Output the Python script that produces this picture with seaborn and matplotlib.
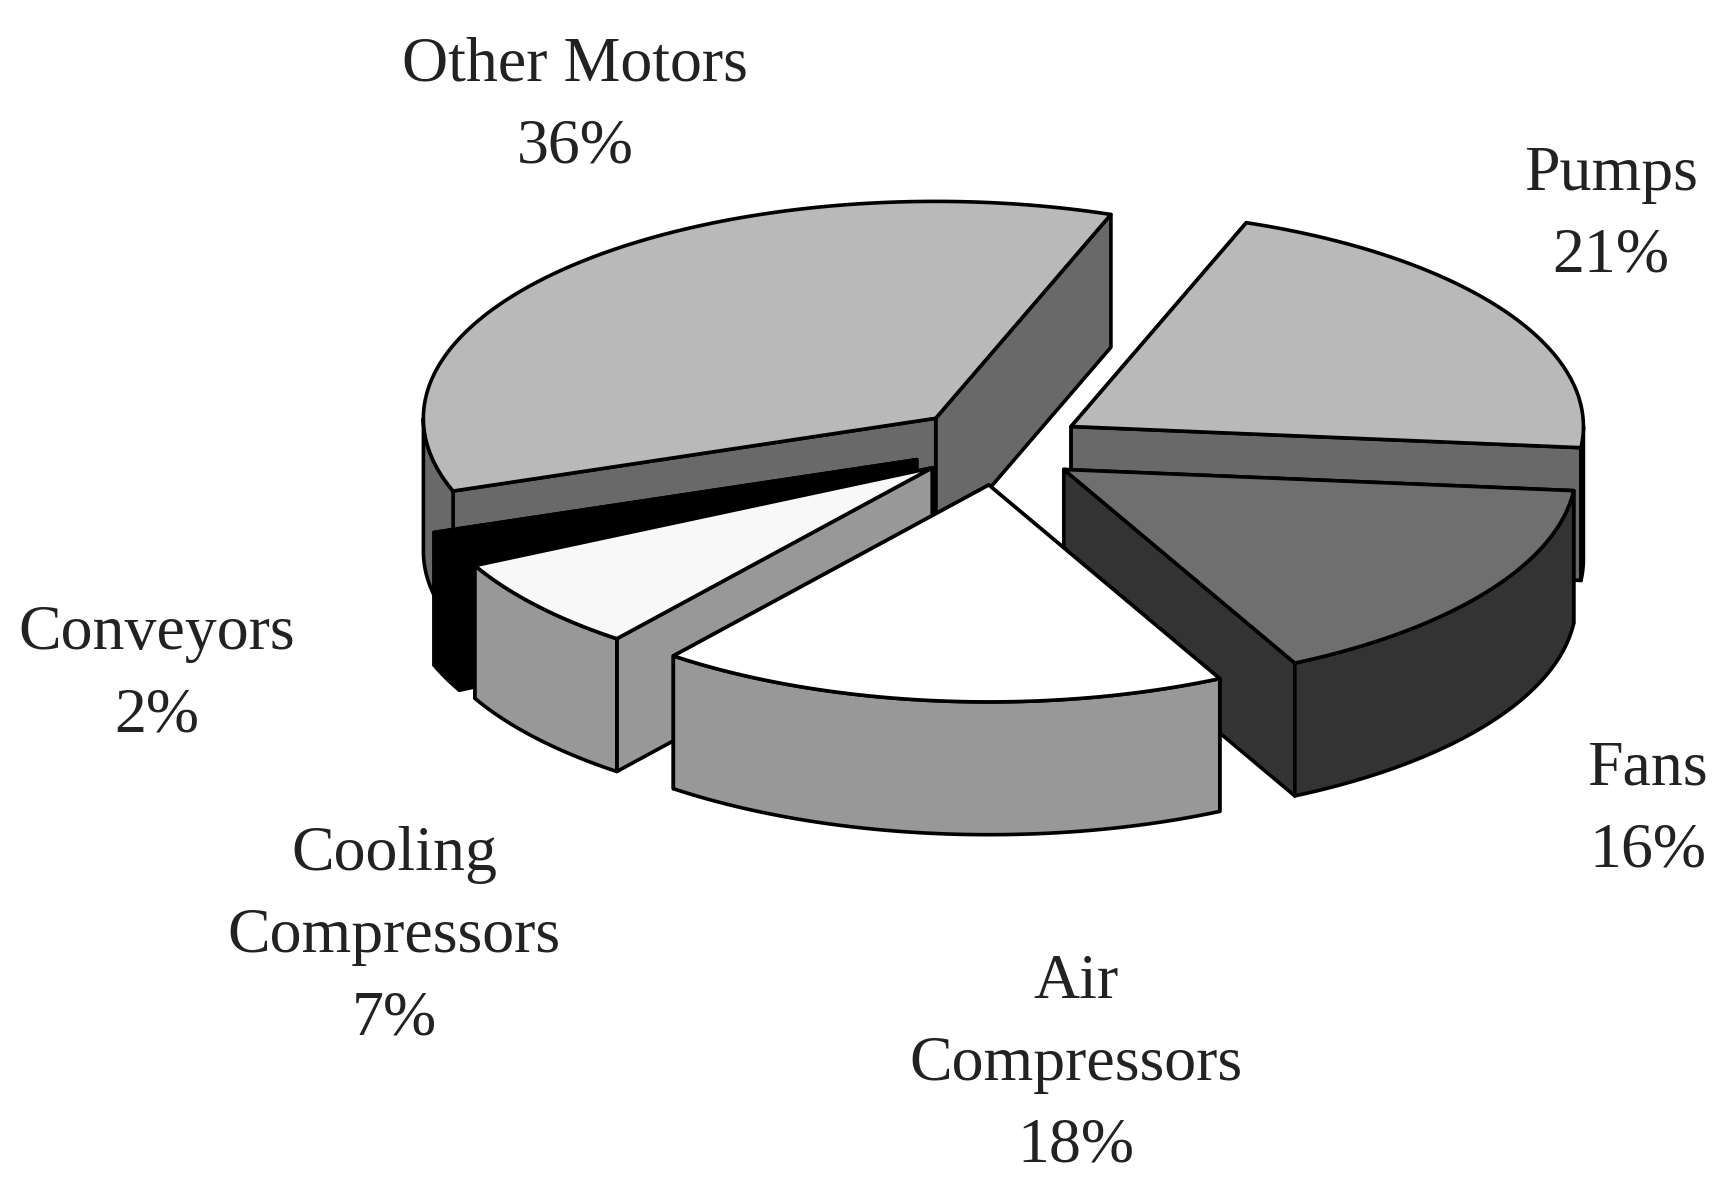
import numpy as np
import matplotlib
matplotlib.use("Agg")
import matplotlib.pyplot as plt
from matplotlib.patches import Polygon
import seaborn as sns

categories = ["Other Motors", "Pumps", "Fans", "Air\nCompressors", "Cooling\nCompressors", "Conveyors"]
shares = [36, 21, 16, 18, 7, 2]
explode = [80, 78, 72, 86, 77, 80]
lift = [0, 1, 5, 0, 0, 0]
top_colors = ["#b9b9b9", "#b9b9b9", "#6f6f6f", "#ffffff", "#f8f8f8", "#000000"]
side_colors = ["#696969", "#696969", "#333333", "#989898", "#989898", "#000000"]
arc_colors = ["#696969", "#000000", "#333333", "#989898", "#989898", "#000000"]
draw_order = [1, 0, 5, 2, 4, 3]
label_pos = [(520, 59), (1456, 158), (1489, 695), (972, 888), (356, 773), (142, 573)]
start_angle = 20 - 36 * 3.6

sns.set_theme(style="white")
plt.rcParams["font.family"] = ["Liberation Serif", "DejaVu Serif"]

CX, CY, RX, RY, DEPTH = 902, 402, 463, 196, 120


def project(theta_deg, ex, ey, z=0):
    t = np.radians(theta_deg)
    return np.column_stack([ex + RX * np.sin(t), ey - RY * np.cos(t) + z])


fig = plt.figure(figsize=(17.35, 11.93), dpi=100)
ax = fig.add_axes([0, 0, 1, 1])
ax.set_xlim(0, 1568)
ax.set_ylim(1078, 0)
ax.axis("off")

fracs = np.array(shares) / sum(shares) * 360
starts = start_angle + np.concatenate([[0], np.cumsum(fracs)[:-1]])
style = dict(edgecolor="black", linewidth=2.6, joinstyle="round")

for i in draw_order:
    a0, a1 = starts[i], starts[i] + fracs[i]
    mid = np.radians((a0 + a1) / 2)
    ex = CX + explode[i] * np.sin(mid)
    ey = CY - explode[i] * RY / RX * np.cos(mid) + lift[i]
    top_arc = project(np.linspace(a0, a1, 160), ex, ey)
    tip = np.array([[ex, ey]])
    # radial walls: the one further back first
    ends = sorted([top_arc[0], top_arc[-1]], key=lambda p: p[1])
    for edge in ends:
        wall = np.vstack([tip, [edge], [edge + [0, DEPTH]], tip + [0, DEPTH]])
        ax.add_patch(Polygon(wall, facecolor=side_colors[i], **style))
    # outer wall: only the arc that faces the viewer
    for win_lo, win_hi in ((90, 270), (-270, -90)):
        lo, hi = max(a0, win_lo), min(a1, win_hi)
        if lo < hi:
            front = np.linspace(lo, hi, 120)
            strip = np.vstack([project(front, ex, ey), project(front, ex, ey, DEPTH)[::-1]])
            ax.add_patch(Polygon(strip, facecolor=arc_colors[i], **style))
    ax.add_patch(Polygon(np.vstack([tip, top_arc]), facecolor=top_colors[i], **style))

for name, share, (x, y) in zip(categories, shares, label_pos):
    lines = name.split("\n") + [f"{share}%"]
    for k, line in enumerate(lines):
        ax.text(x, y + k * 74, line, ha="center", va="center", fontsize=46, color="#222222")

fig.savefig("out.png", dpi=100, facecolor="white")
